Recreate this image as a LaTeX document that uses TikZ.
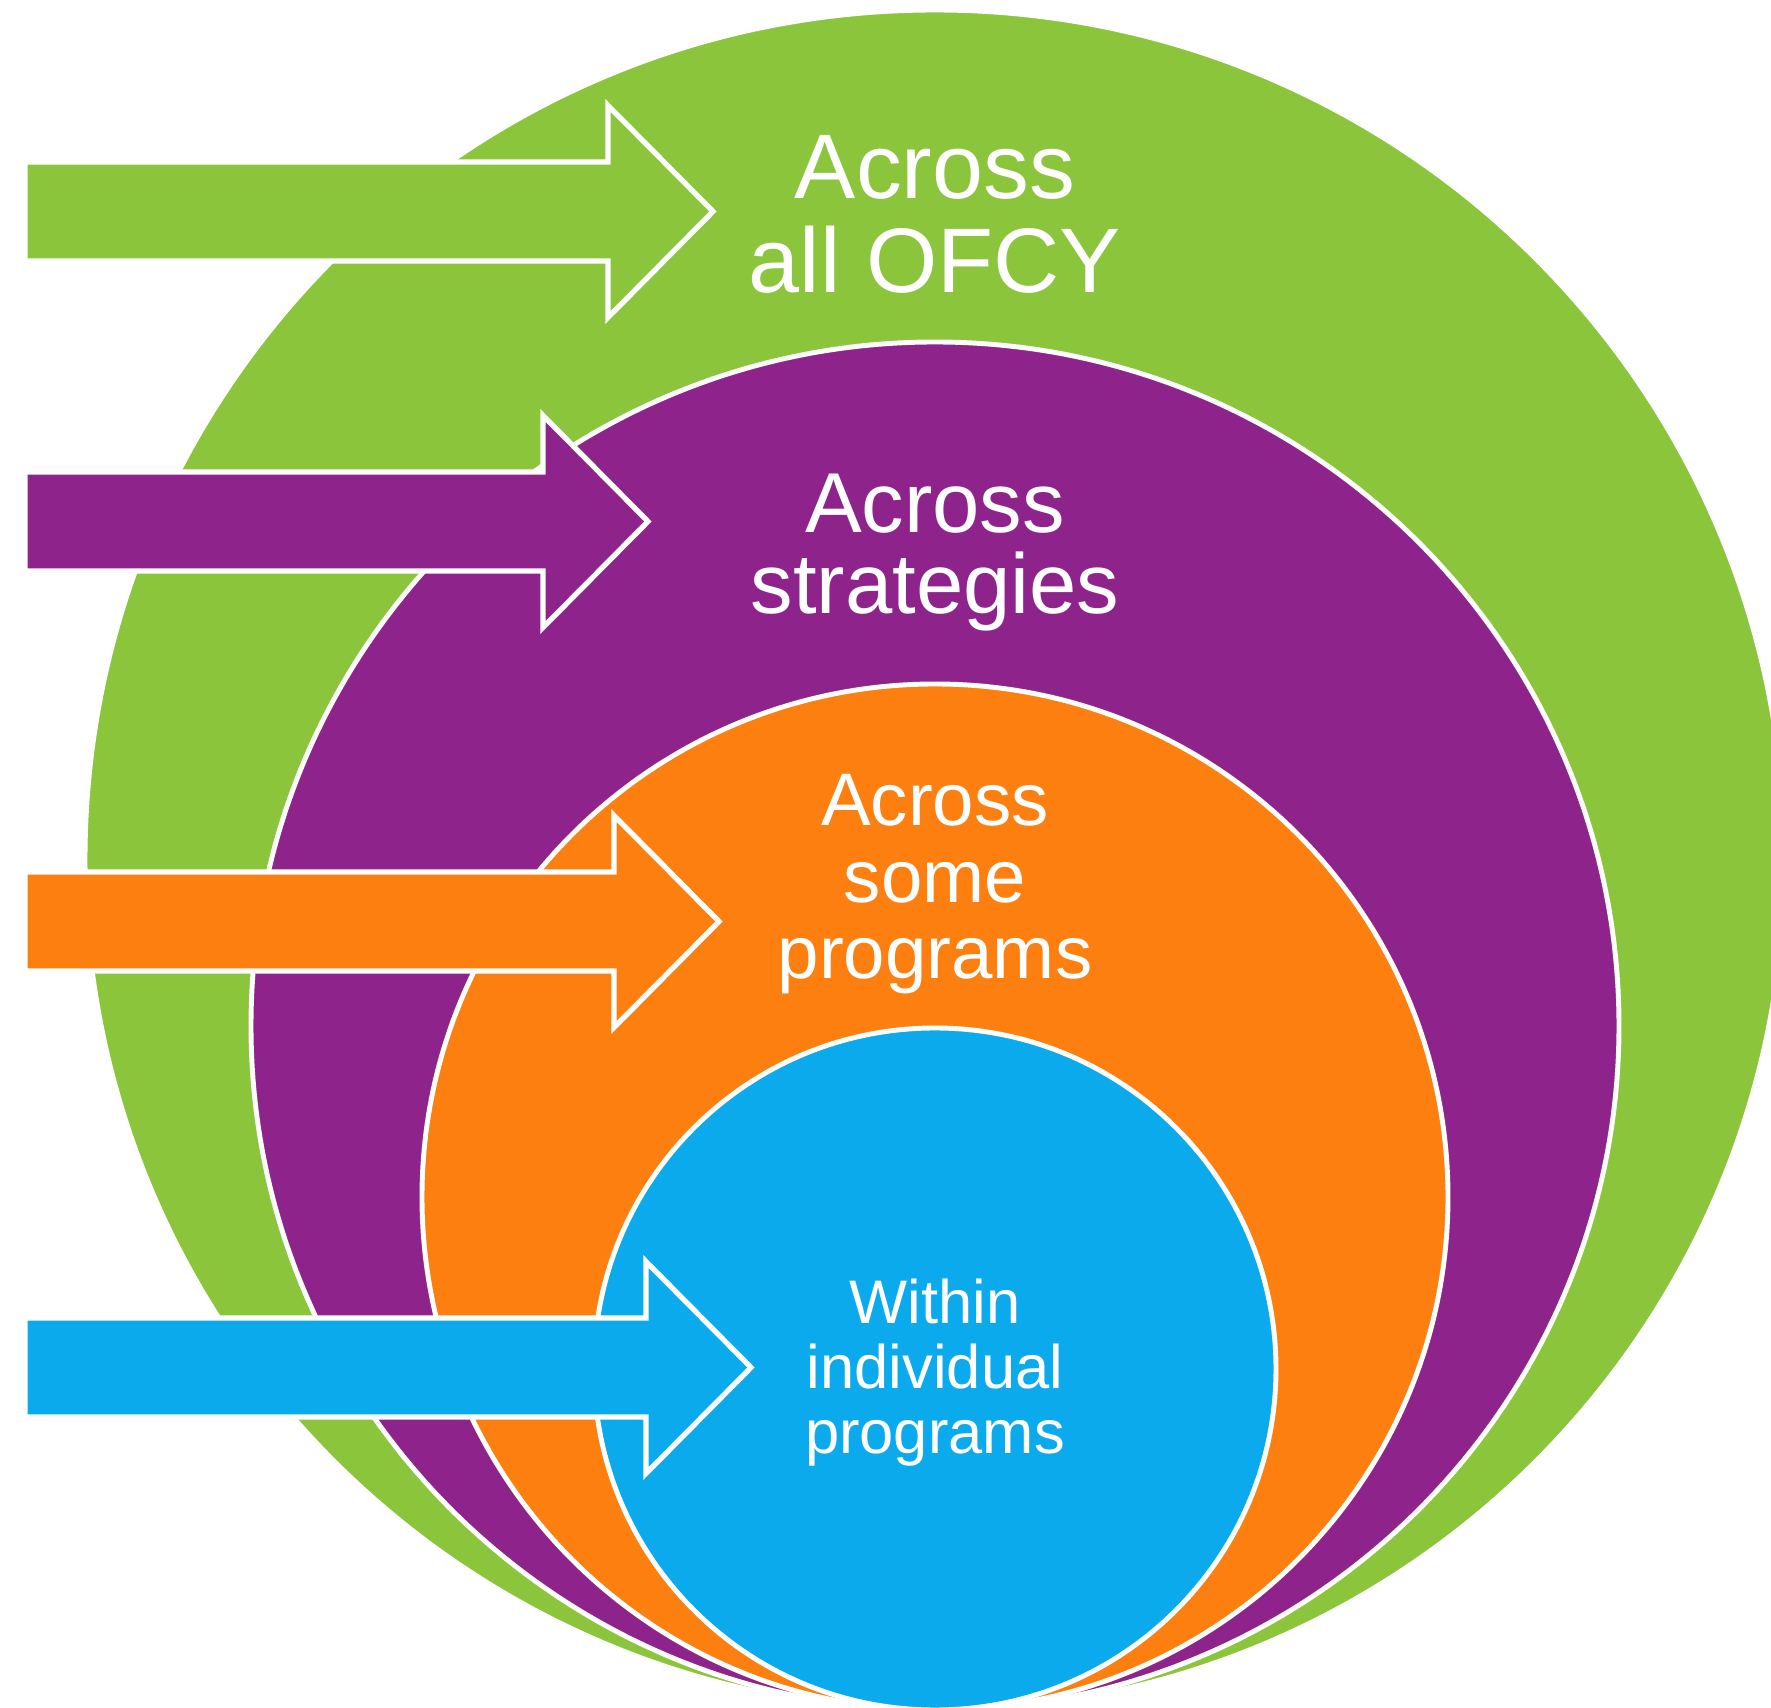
\documentclass[tikz,border=0pt]{standalone}
\usepackage{fontspec}
\setmainfont{Liberation Sans}
\usetikzlibrary{arrows}
\definecolor{ofcygreen}{RGB}{139,197,59}
\definecolor{ofcypurple}{RGB}{142,36,139}
\definecolor{ofcyorange}{RGB}{253,127,15}
\definecolor{ofcyblue}{RGB}{11,170,237}
\tikzset{
  ring/.style={draw=white,line width=1.4pt},
  ringlabel/.style={text=white,align=center,inner sep=0pt,anchor=base}
}
% block arrow: fill colour, tip x, middle y
\newcommand{\blockarrow}[3]{%
\draw [fill=#1,draw=white,line width=1.5pt,line join=miter] (0.25,#3-0.495) -- (#2-1.05,#3-0.495) -- (#2-1.05,#3-1.06) -- (#2,#3) -- (#2-1.05,#3+1.06) -- (#2-1.05,#3+0.495) -- (0.25,#3+0.495) -- cycle;}

\begin{document}
\begin{tikzpicture}[line cap=round,line join=round,x=1.0cm,y=1.0cm]
\useasboundingbox (0,0) rectangle (17.71,17.08);
\clip (0,0) rectangle (17.71,17.08);
% nested rings, all touching at the bottom
\draw [ring,fill=ofcygreen] (9.35,8.48) circle (8.50);
\draw [ring,fill=ofcypurple] (9.35,6.82) circle (6.84);
\draw [ring,fill=ofcyorange] (9.35,5.11) circle (5.13);
\draw [ring,fill=ofcyblue] (9.35,3.39) circle (3.41);
% arrows
\blockarrow{ofcygreen}{7.13}{14.965}
\blockarrow{ofcypurple}{6.48}{11.865}
\blockarrow{ofcyorange}{7.19}{7.865}
\blockarrow{ofcyblue}{7.51}{3.405}
% labels (anchored on the last line)
\node [ringlabel,font=\fontsize{26.1}{26.7}\selectfont] (allofcy) at (9.35,14.153) {Across\\all OFCY};
\node [ringlabel,font=\fontsize{24.2}{23.1}\selectfont] (strategies) at (9.35,10.94) {Across\\strategies};
\node [ringlabel,font=\fontsize{21.2}{21.8}\selectfont] (someprog) at (9.35,7.29) {Across\\some\\programs};
\node [ringlabel,font=\fontsize{17.5}{18.5}\selectfont] (withinprog) at (9.35,2.547) {Within\\individual\\programs};
\end{tikzpicture}
\end{document}
